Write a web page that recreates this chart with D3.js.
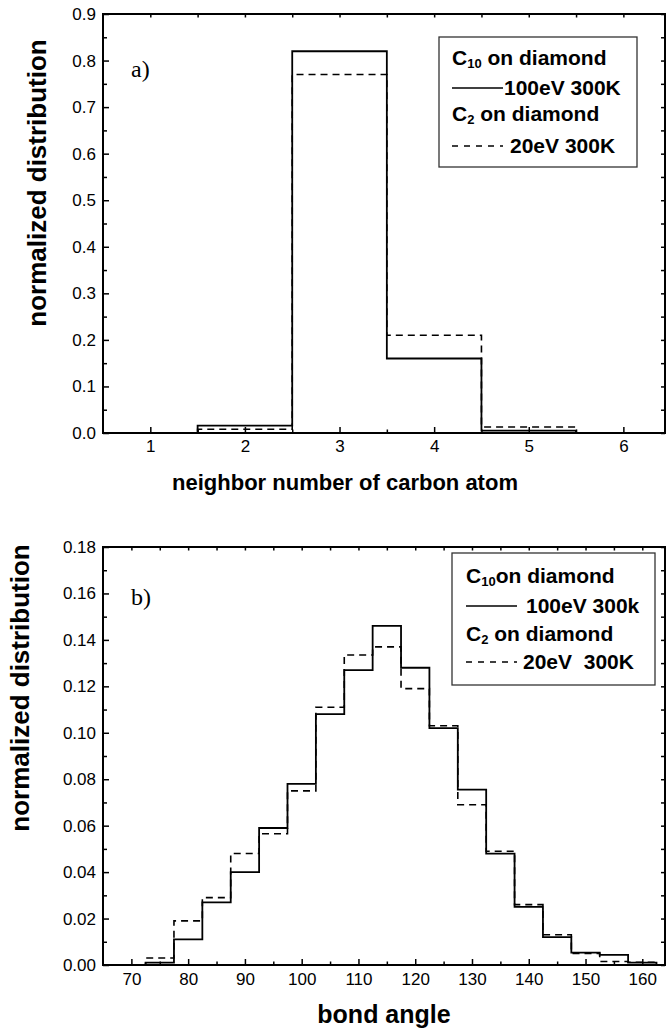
<!DOCTYPE html>
<html lang="en">
<head>
   <meta charset="UTF-8">
   <title>Normalized distributions</title>
   <style>
      html, body {
         margin: 0;
         padding: 0;
         background: #fff;
         overflow: hidden;
      }

      text {
         font-family: "Liberation Sans", Arial, Helvetica, sans-serif;
         fill: #000;
      }

      .tick text {
         font-size: 17px;
      }

      .tick line {
         stroke: #000;
         stroke-width: 1.5;
      }

      .label {
         font-weight: bold;
      }

      .panel-tag {
         font-family: "Liberation Serif", "Times New Roman", serif;
         font-size: 24px;
      }

      .legend text {
         font-size: 21px;
         font-weight: bold;
         white-space: pre;
      }
   </style>
   <script src="https://cdn.jsdelivr.net/npm/d3@7"></script>
</head>
<body>
   <div class="chart"></div>
   <script>
      // panel a) neighbor number of carbon atom
      const neighborBins = [1, 2, 3, 4, 5, 6]
      const neighborC10 = [0, 0.016, 0.82, 0.16, 0.005, 0]
      const neighborC2 = [0, 0.008, 0.77, 0.21, 0.013, 0]
      const neighborTicksY = [0, 0.1, 0.2, 0.3, 0.4, 0.5, 0.6, 0.7, 0.8, 0.9]

      // panel b) bond angle
      const angleBins = [70, 75, 80, 85, 90, 95, 100, 105, 110, 115, 120, 125, 130, 135, 140, 145, 150, 155, 160]
      const angleC10 = [0, 0.001, 0.011, 0.027, 0.040, 0.059, 0.078, 0.108, 0.127, 0.146, 0.128, 0.102, 0.0755, 0.048, 0.025, 0.012, 0.0053, 0.0044, 0.001]
      const angleC2 = [0, 0.003, 0.019, 0.029, 0.048, 0.0565, 0.075, 0.111, 0.1335, 0.137, 0.119, 0.103, 0.069, 0.049, 0.026, 0.013, 0.005, 0.0015, 0.0012]
      const angleTicksX = [70, 80, 90, 100, 110, 120, 130, 140, 150, 160]
      const angleTicksY = [0, 0.02, 0.04, 0.06, 0.08, 0.10, 0.12, 0.14, 0.16, 0.18]

      const legendA = [
         { base: 'C', sub: '10', rest: ' on diamond' },
         { text: '100eV 300K' },
         { base: 'C', sub: '2', rest: ' on diamond' },
         { text: '20eV 300K' }
      ]
      const legendB = [
         { base: 'C', sub: '10', rest: 'on diamond' },
         { text: '100eV 300k' },
         { base: 'C', sub: '2', rest: ' on diamond' },
         { text: '20eV  300K' }
      ]

      const WIDTH = 666
      const HEIGHT = 1033

      const svg = d3.select('.chart').append('svg')
         .attr('width', WIDTH)
         .attr('height', HEIGHT)

      // outline of a histogram: up and down at every bin edge
      function histPoints(bins, values, width) {
         const pts = [[bins[0] - width / 2, 0]]
         bins.forEach((c, i) => {
            pts.push([c - width / 2, values[i]])
            pts.push([c + width / 2, values[i]])
         })
         pts.push([bins[bins.length - 1] + width / 2, 0])
         return pts
      }

      function drawPanel(opt) {
         const left = 103, right = 665
         const g = svg.append('g')

         const x = d3.scaleLinear().domain(opt.xDomain).range([left, right])
         const y = d3.scaleLinear().domain(opt.yDomain).range([opt.bottom, opt.top])

         const clipId = 'clip-' + opt.id
         g.append('clipPath').attr('id', clipId)
            .append('rect')
            .attr('x', left).attr('y', opt.top)
            .attr('width', right - left).attr('height', opt.bottom - opt.top)

         // axes, ticks pointing inward
         const axisBottom = d3.axisBottom(x).tickValues(opt.xMajor).tickFormat(opt.xFormat)
            .tickSizeInner(-6).tickSizeOuter(0).tickPadding(opt.xPad)
         const axisBottomMinor = d3.axisBottom(x).tickValues(opt.xMinor).tickFormat('')
            .tickSizeInner(-3.5).tickSizeOuter(0)
         const axisTop = d3.axisTop(x).tickValues(opt.xMajor.concat(opt.xMinor)).tickFormat('')
            .tickSizeInner(-3.5).tickSizeOuter(0)
         const axisLeft = d3.axisLeft(y).tickValues(opt.yMajor).tickFormat(opt.yFormat)
            .tickSizeInner(-6).tickSizeOuter(0).tickPadding(7)
         const axisLeftMinor = d3.axisLeft(y).tickValues(opt.yMinor).tickFormat('')
            .tickSizeInner(-4).tickSizeOuter(0)
         const axisRight = d3.axisRight(y).tickValues(opt.yMajor.concat(opt.yMinor)).tickFormat('')
            .tickSizeInner(-4).tickSizeOuter(0)

         g.append('g').attr('transform', `translate(0, ${opt.bottom})`).call(axisBottom)
         g.append('g').attr('transform', `translate(0, ${opt.bottom})`).call(axisBottomMinor)
         g.append('g').attr('transform', `translate(0, ${opt.top})`).call(axisTop)
         g.append('g').attr('transform', `translate(${left}, 0)`).call(axisLeft)
         g.append('g').attr('transform', `translate(${left}, 0)`).call(axisLeftMinor)
         g.append('g').attr('transform', `translate(${right}, 0)`).call(axisRight)

         g.selectAll('.domain').remove()
         g.selectAll('.tick text').attr('fill', '#000')

         // histograms
         const line = d3.line().x(d => x(d[0])).y(d => y(d[1]))

         g.append('path')
            .attr('clip-path', `url(#${clipId})`)
            .attr('d', line(histPoints(opt.bins, opt.dashed, opt.binWidth)))
            .attr('fill', 'none')
            .attr('stroke', '#000')
            .attr('stroke-width', 1.6)
            .attr('stroke-dasharray', '7,5')

         g.append('path')
            .attr('clip-path', `url(#${clipId})`)
            .attr('d', line(histPoints(opt.bins, opt.solid, opt.binWidth)))
            .attr('fill', 'none')
            .attr('stroke', '#000')
            .attr('stroke-width', 1.8)

         // frame
         g.append('rect')
            .attr('x', left).attr('y', opt.top)
            .attr('width', right - left).attr('height', opt.bottom - opt.top)
            .attr('fill', 'none')
            .attr('stroke', '#000')
            .attr('stroke-width', 2)

         // axis labels
         g.append('text')
            .attr('class', 'label')
            .attr('x', opt.xLabelX)
            .attr('y', opt.xLabelY)
            .attr('text-anchor', 'middle')
            .style('font-size', opt.xLabelSize + 'px')
            .text(opt.xLabel)

         g.append('text')
            .attr('class', 'label')
            .attr('transform', `translate(${opt.yLabelX}, ${opt.yLabelY}) rotate(-90)`)
            .attr('text-anchor', 'middle')
            .style('font-size', '26px')
            .text('normalized distribution')

         g.append('text')
            .attr('class', 'panel-tag')
            .attr('x', 131)
            .attr('y', opt.tagY)
            .text(opt.tag)

         // legend
         const lg = g.append('g').attr('class', 'legend')
         const L = opt.legend
         lg.append('rect')
            .attr('x', L.x).attr('y', L.y)
            .attr('width', L.w).attr('height', L.h)
            .attr('fill', '#fff')
            .attr('stroke', '#333')
            .attr('stroke-width', 1.3)

         opt.legendRows.forEach((row, i) => {
            const by = L.rows[i]
            if (row.base) {
               const t = lg.append('text').attr('x', L.textX).attr('y', by)
               t.append('tspan').text(row.base)
               t.append('tspan').attr('dy', 3).style('font-size', '13px').text(row.sub)
               t.append('tspan').attr('dy', -3).text(row.rest)
            } else {
               lg.append('line')
                  .attr('x1', L.textX).attr('x2', L.textX + 51)
                  .attr('y1', by - 7).attr('y2', by - 7)
                  .attr('stroke', '#000')
                  .attr('stroke-width', 1.6)
                  .attr('stroke-dasharray', i === 3 ? '6,6' : null)
               lg.append('text')
                  .attr('x', L.lineTextX[i === 3 ? 1 : 0])
                  .attr('y', by)
                  .text(row.text)
            }
         })
      }

      drawPanel({
         id: 'a',
         top: 14, bottom: 433,
         xDomain: [0.5, 6.44], yDomain: [0, 0.9],
         bins: neighborBins, binWidth: 1,
         solid: neighborC10, dashed: neighborC2,
         xMajor: neighborBins, xMinor: [1.5, 2.5, 3.5, 4.5, 5.5],
         xFormat: d3.format('d'), xPad: 7,
         yMajor: neighborTicksY, yMinor: neighborTicksY.slice(0, -1).map(v => v + 0.05),
         yFormat: d3.format('.1f'),
         xLabel: 'neighbor number of carbon atom', xLabelX: 345, xLabelY: 490, xLabelSize: 22,
         yLabelX: 46, yLabelY: 183,
         tag: 'a)', tagY: 77,
         legend: { x: 439, y: 37, w: 198, h: 130, textX: 452, rows: [65, 95, 121, 153], lineTextX: [504, 510] },
         legendRows: legendA
      })

      drawPanel({
         id: 'b',
         top: 547, bottom: 965,
         xDomain: [65, 164], yDomain: [0, 0.18],
         bins: angleBins, binWidth: 5,
         solid: angleC10, dashed: angleC2,
         xMajor: angleTicksX, xMinor: angleTicksX.map(v => v + 5),
         xFormat: d3.format('d'), xPad: 8,
         yMajor: angleTicksY, yMinor: angleTicksY.slice(0, -1).map(v => v + 0.01),
         yFormat: d3.format('.2f'),
         xLabel: 'bond angle', xLabelX: 384, xLabelY: 1023, xLabelSize: 25,
         yLabelX: 29, yLabelY: 688,
         tag: 'b)', tagY: 605,
         legend: { x: 452, y: 553, w: 203, h: 132, textX: 466, rows: [583, 613, 641, 669], lineTextX: [526, 523] },
         legendRows: legendB
      })
   </script>
</body>
</html>
